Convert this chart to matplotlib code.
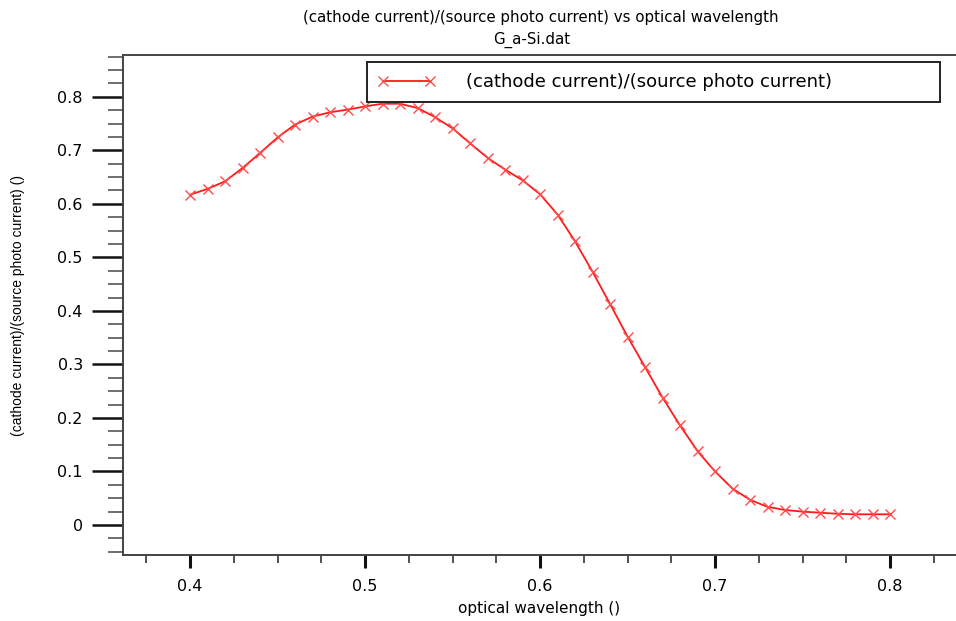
import numpy as np
import matplotlib
matplotlib.use('Agg')
import matplotlib.pyplot as plt
from matplotlib.ticker import MultipleLocator, FuncFormatter

plt.rcParams['font.family'] = ['DejaVu Sans']

# wavelength values and current ratio
wavelength = [0.40, 0.41, 0.42, 0.43, 0.44, 0.45, 0.46, 0.47, 0.48, 0.49,
              0.50, 0.51, 0.52, 0.53, 0.54, 0.55, 0.56, 0.57, 0.58, 0.59,
              0.60, 0.61, 0.62, 0.63, 0.64, 0.65, 0.66, 0.67, 0.68, 0.69,
              0.70, 0.71, 0.72, 0.73, 0.74, 0.75, 0.76, 0.77, 0.78, 0.79, 0.80]
ratio = [0.617, 0.628, 0.642, 0.667, 0.695, 0.724, 0.748, 0.763, 0.771, 0.776,
         0.782, 0.787, 0.787, 0.779, 0.762, 0.741, 0.713, 0.686, 0.664, 0.644,
         0.618, 0.580, 0.530, 0.473, 0.413, 0.352, 0.295, 0.238, 0.186, 0.138,
         0.100, 0.068, 0.047, 0.034, 0.028, 0.025, 0.023, 0.021, 0.020, 0.020, 0.020]

series_name = '(cathode current)/(source photo current)'
title1 = '(cathode current)/(source photo current) vs optical wavelength'
title2 = 'G_a-Si.dat'

fig = plt.figure(figsize=(9.56, 6.21), dpi=100)
ax = fig.add_axes([0.1287, 0.1063, 0.8713, 0.8051])

ax.plot(wavelength, ratio, color='#ff1a1a', lw=1.3, marker='x', ms=7, mew=1.0,
        mec='#ff4d4d', label=series_name, clip_on=False)

ax.set_xlim(0.3617, 0.8377)
ax.set_ylim(-0.056, 0.878)

ax.xaxis.set_major_locator(MultipleLocator(0.1))
ax.xaxis.set_minor_locator(MultipleLocator(0.025))
ax.yaxis.set_major_locator(MultipleLocator(0.1))
ax.yaxis.set_minor_locator(MultipleLocator(0.025))

def fmt(v, pos):
    s = '%.1f' % v
    return '0' if abs(v) < 1e-9 else s

ax.yaxis.set_major_formatter(FuncFormatter(fmt))
ax.xaxis.set_major_formatter(FuncFormatter(fmt))

ax.spines['right'].set_visible(False)
for sp in ['left', 'bottom', 'top']:
    ax.spines[sp].set_color('#444444')
    ax.spines[sp].set_linewidth(1.4)

ax.tick_params(axis='y', which='major', direction='out', length=22, width=1.8,
               pad=7, labelsize=11.5, color='#111111')
ax.tick_params(axis='y', which='minor', direction='out', length=11, width=1.2,
               color='#555555')
ax.tick_params(axis='x', which='major', direction='out', length=9, width=2.2,
               pad=8, labelsize=11.5, color='#111111')
ax.tick_params(axis='x', which='minor', direction='out', length=6, width=1.2,
               color='#333333')

ax.set_xlabel('optical wavelength ()', fontsize=11, labelpad=5)
ax.set_ylabel('(cathode current)/(source photo current) ()', fontsize=10,
              labelpad=23, family='Liberation Sans')

fig.text(0.566, 0.972, title1, ha='center', va='center', fontsize=10.8)
fig.text(0.556, 0.936, title2, ha='center', va='center', fontsize=10.8)

leg = ax.legend(loc='lower left', bbox_to_anchor=(0.293, 0.906, 0.688, 0.074),
                mode='expand', borderaxespad=0, fontsize=13, handlelength=3.2,
                numpoints=2, fancybox=False, framealpha=1, borderpad=0.6,
                handletextpad=1.7)
leg.get_frame().set_edgecolor('#222222')
leg.get_frame().set_linewidth(1.4)

fig.savefig('out.png', dpi=100)
